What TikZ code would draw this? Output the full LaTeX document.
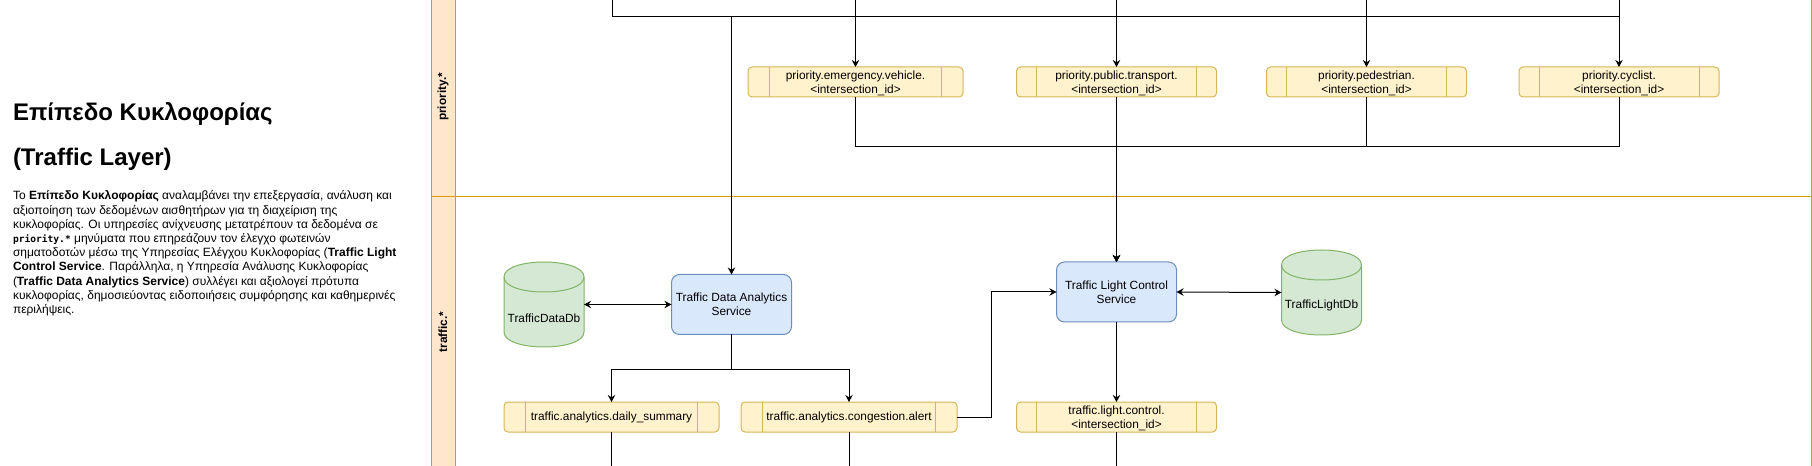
\documentclass[tikz,border=0pt]{standalone}
\usepackage{fontspec}
\setmainfont{Liberation Sans}
\newfontfamily\codefont{DejaVu Sans Mono}
\usetikzlibrary{arrows.meta,calc}
\definecolor{topicfill}{HTML}{FFF2CC}
\definecolor{topicdraw}{HTML}{D6B656}
\definecolor{svcfill}{HTML}{DAE8FC}
\definecolor{svcdraw}{HTML}{6C8EBF}
\definecolor{dbfill}{HTML}{D5E8D4}
\definecolor{dbdraw}{HTML}{82B366}
\definecolor{lanedraw}{HTML}{D79B00}
\definecolor{lanefill}{HTML}{FFE6CC}
\newcommand{\cylpath}[4]{%
  \filldraw[draw=dbdraw, fill=dbfill, line width=0.75pt] (#1,#2+15) -- (#1,#4-15) .. controls (#1,#4+5) and (#3,#4+5) .. (#3,#4-15) -- (#3,#2+15) .. controls (#3,#2-5) and (#1,#2-5) .. cycle;
  \draw[dbdraw, line width=0.75pt] (#1,#2+15) .. controls (#1,#2+35) and (#3,#2+35) .. (#3,#2+15);}
\newcommand{\nodepth}[1]{\raisebox{0pt}[\height][0pt]{#1}}
\begin{document}
\begin{tikzpicture}[x=0.75pt,y=-0.75pt,
  every node/.style={inner sep=0pt, outer sep=0pt},
  nodefont/.style={font=\fontsize{8.9}{10.5}\selectfont},
  topic/.style={nodefont, draw=topicdraw, fill=topicfill, rounded corners=3pt, line width=0.75pt, align=center,
    minimum height=30*0.75pt,
    path picture={
      \draw[topicdraw, line width=0.75pt]
        ($(path picture bounding box.north west)!0.1!(path picture bounding box.north east)$) --
        ($(path picture bounding box.south west)!0.1!(path picture bounding box.south east)$);
      \draw[topicdraw, line width=0.75pt]
        ($(path picture bounding box.north west)!0.9!(path picture bounding box.north east)$) --
        ($(path picture bounding box.south west)!0.9!(path picture bounding box.south east)$);}},
  service/.style={nodefont, draw=svcdraw, fill=svcfill, rounded corners=6pt, line width=0.75pt, align=center,
    minimum width=120*0.75pt, minimum height=60*0.75pt},
  dbbox/.style={minimum width=80*0.75pt, minimum height=85*0.75pt},
  lanelabel/.style={font=\fontsize{8.9}{10.5}\selectfont\bfseries, rotate=90},
  conn/.style={draw=black, line width=0.75pt},
  arr/.style={conn, -{Stealth[length=5.3pt,width=5.6pt,inset=1.8pt]}},
  biarr/.style={conn, {Stealth[length=5.3pt,width=5.6pt,inset=1.8pt]}-{Stealth[length=5.3pt,width=5.6pt,inset=1.8pt]}}
]
\useasboundingbox (0,0) rectangle (1812,466);

% left description
\node[anchor=base west, align=left, font=\fontsize{18}{33.75}\selectfont\bfseries] (title) at (13,166)
  {Επίπεδο Κυκλοφορίας\\(Traffic Layer)};
\node[anchor=base west, align=left, font=\fontsize{9}{10.65}\selectfont] (desc) at (13,313.5)
  {Το \textbf{Επίπεδο Κυκλοφορίας} αναλαμβάνει την επεξεργασία, ανάλυση και\\
   αξιοποίηση των δεδομένων αισθητήρων για τη διαχείριση της\\
   κυκλοφορίας. Οι υπηρεσίες ανίχνευσης μετατρέπουν τα δεδομένα σε\\
   {\codefont\bfseries\fontsize{7.2}{10.65}\selectfont priority.*} μηνύματα που επηρεάζουν τον έλεγχο φωτεινών\\
   σηματοδοτών μέσω της Υπηρεσίας Ελέγχου Κυκλοφορίας (\textbf{Traffic Light}\\
   \textbf{Control Service}. Παράλληλα, η Υπηρεσία Ανάλυσης Κυκλοφορίας\\
   (\textbf{Traffic Data Analytics Service}) συλλέγει και αξιολογεί πρότυπα\\
   κυκλοφορίας, δημοσιεύοντας ειδοποιήσεις συμφόρησης και καθημερινές\\
   περιλήψεις.};

% pool and lanes
\fill[lanefill] (431,-3) rectangle (455,470);
\draw[lanedraw, line width=0.75pt] (431,-3) -- (431,470);
\draw[lanedraw, line width=0.75pt] (455,-3) -- (455,470);
\draw[lanedraw, line width=0.75pt] (1811,-3) -- (1811,470);
\draw[lanedraw, line width=0.75pt] (431,197) -- (1811,197);
\node[lanelabel] (lanepri) at (443,97) {priority.*};
\node[lanelabel] (lanetra) at (443,332) {traffic.*};

% priority topics
\node[topic, minimum width=215*0.75pt] (emerg) at (855.5,82) {priority.emergency.vehicle.\\\nodepth{<intersection\_id>}};
\node[topic, minimum width=200*0.75pt] (trans) at (1116.5,82) {priority.public.transport.\\\nodepth{<intersection\_id>}};
\node[topic, minimum width=200*0.75pt] (ped) at (1366.5,82) {priority.pedestrian.\\\nodepth{<intersection\_id>}};
\node[topic, minimum width=200*0.75pt] (cyc) at (1619,82) {priority.cyclist.\\\nodepth{<intersection\_id>}};

% services
\node[service] (tda) at (731.5,304.5) {Traffic Data Analytics\\Service};
\node[service] (tlc) at (1116.5,292) {Traffic Light Control\\Service};

% databases
\cylpath{504}{262}{584}{347}
\node[dbbox] (datadb) at (544,304.5) {};
\node[nodefont] (datadblabel) at (544,318) {TrafficDataDb};
\cylpath{1281.5}{250}{1361.5}{335}
\node[dbbox] (lightdb) at (1321.5,292.5) {};
\node[nodefont] (lightdblabel) at (1321.5,305) {TrafficLightDb};

% traffic topics
\node[topic, minimum width=215*0.75pt] (daily) at (611.5,417) {traffic.analytics.daily\_summary};
\node[topic, minimum width=216*0.75pt] (cong) at (849,417) {traffic.analytics.congestion.alert};
\node[topic, minimum width=200*0.75pt] (lightctl) at (1116.5,417) {traffic.light.control.\\\nodepth{<intersection\_id>}};

% coordinates
\coordinate (src0) at (612,-2);
\coordinate (j0) at (612,17);
\coordinate (jr) at (1619,17);
\coordinate (srcE) at (855.5,-2);
\coordinate (srcT) at (1116.5,-2);
\coordinate (srcP) at (1366.5,-2);
\coordinate (srcC) at (1619,-2);
\coordinate (jb) at (1116.5,147);
\coordinate (jtd) at (731.5,369);
\coordinate (jc) at (991,417);
\coordinate (outD) at (611.5,470);
\coordinate (outC) at (849,470);
\coordinate (outL) at (1116.5,470);

% connectors
\draw[arr] (src0) -- (j0) -| (tda.north);
\draw[conn] (j0) -- (jr);
\draw[arr] (srcE) -- (emerg.north);
\draw[arr] (srcT) -- (trans.north);
\draw[arr] (srcP) -- (ped.north);
\draw[arr] (srcC) -- (cyc.north);
\draw[arr] (emerg.south) |- (jb) -- (tlc.north);
\draw[arr] (ped.south) |- (jb) -- (tlc.north);
\draw[arr] (cyc.south) |- (jb) -- (tlc.north);
\draw[arr] (trans.south) -- (tlc.north);
\draw[biarr] (datadb.east) -- (tda.west);
\draw[arr] (tda.south) -- (jtd) -| (daily.north);
\draw[arr] (tda.south) -- (jtd) -| (cong.north);
\draw[arr] (cong.east) -- (jc) |- (tlc.west);
\draw[biarr] (tlc.east) -- (lightdb.west);
\draw[arr] (tlc.south) -- (lightctl.north);
\draw[conn] (daily.south) -- (outD);
\draw[conn] (cong.south) -- (outC);
\draw[conn] (lightctl.south) -- (outL);
\end{tikzpicture}
\end{document}
